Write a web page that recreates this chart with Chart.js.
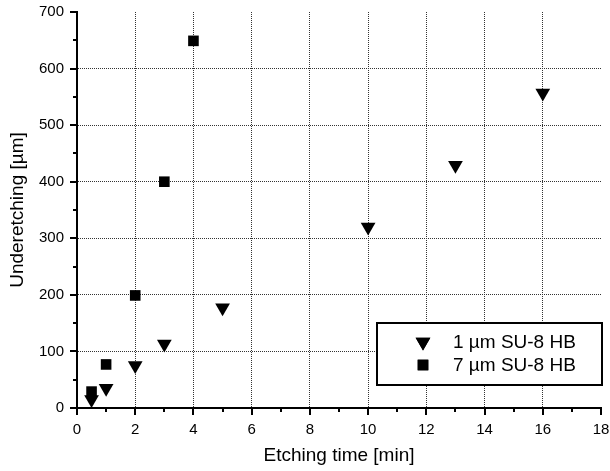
<!DOCTYPE html>
<html>
<head>
<meta charset="utf-8">
<script src="https://cdn.jsdelivr.net/npm/chart.js@4/dist/chart.umd.min.js"></script>
<style>
  html, body { margin: 0; padding: 0; background: #fff; }
  #wrap { width: 610px; height: 471px; }
</style>
</head>
<body>
<div id="wrap"><canvas id="chartUnderetching"></canvas></div>
<script>
/* Data */
const time_1um = [0.5, 1, 2, 3, 5, 10, 13, 16];
const under_1um = [15, 35, 75, 113, 177, 320, 429, 557];
const time_7um = [0.5, 1, 2, 3, 4];
const under_7um = [29, 77, 199, 400, 649];
const seriesLabels = ['1 \u00b5m SU-8 HB', '7 \u00b5m SU-8 HB'];

const FONT = 'Liberation Sans, Arial, Helvetica, sans-serif';

function toPoints(xs, ys) {
  let result = [];
  for (let i = 0; i < xs.length; i++) {
    result.push({x: xs[i], y: ys[i]});
  }
  return result;
}

function gridColor(maxValue) {
  return function (ctx) {
    const v = ctx.tick ? ctx.tick.value : null;
    if (v === 0 || v === maxValue) return 'rgba(0,0,0,0)';
    return '#333';
  };
}

/* minor + major tick marks drawn outside the axes */
const tickMarks = {
  id: 'tickMarks',
  afterDraw(chart) {
    const ctx = chart.ctx;
    const xs = chart.scales.x, ys = chart.scales.y;
    const area = chart.chartArea;
    ctx.save();
    ctx.strokeStyle = '#000';
    ctx.lineWidth = 2;
    for (let v = xs.min; v <= xs.max; v += 1) {
      const px = Math.round(xs.getPixelForValue(v));
      const len = v % 2 === 0 ? 7 : 4;
      ctx.beginPath();
      ctx.moveTo(px, area.bottom);
      ctx.lineTo(px, area.bottom + len);
      ctx.stroke();
    }
    for (let v = ys.min; v <= ys.max; v += 50) {
      const py = Math.round(ys.getPixelForValue(v));
      const len = v % 100 === 0 ? 7 : 4;
      ctx.beginPath();
      ctx.moveTo(area.left, py);
      ctx.lineTo(area.left - len, py);
      ctx.stroke();
    }
    ctx.restore();
  }
};

/* boxed legend inside the plot, bottom right */
const boxLegend = {
  id: 'boxLegend',
  afterDraw(chart) {
    const ctx = chart.ctx;
    const area = chart.chartArea;
    const right = area.right + 1, bottom = area.bottom - 23;
    const w = 225, h = 62;
    const left = right - w, top = bottom - h;
    ctx.save();
    ctx.fillStyle = '#fff';
    ctx.fillRect(left, top, w, h);
    ctx.lineWidth = 2;
    ctx.strokeStyle = '#000';
    ctx.strokeRect(left, top, w, h);
    ctx.font = '19px ' + FONT;
    ctx.textBaseline = 'middle';
    ctx.fillStyle = '#000';
    chart.data.datasets.forEach(function (ds, i) {
      const cy = top + 19 + i * 23;
      const cx = left + 46;
      Chart.helpers.drawPoint(ctx, {
        pointStyle: ds.pointStyle,
        rotation: ds.rotation || 0,
        radius: ds.pointRadius,
        borderWidth: 0
      }, cx, cy);
      ctx.fillStyle = '#000';
      ctx.fill();
      ctx.fillText(ds.label, left + 76, cy + 1);
    });
    ctx.restore();
  }
};

const data = {
  datasets: [
    {
      label: seriesLabels[0],
      data: toPoints(time_1um, under_1um),
      pointStyle: 'triangle',
      rotation: 180,
      pointRadius: 8.5,
      pointHoverRadius: 8.5,
      backgroundColor: '#000',
      borderColor: '#000',
      borderWidth: 0
    },
    {
      label: seriesLabels[1],
      data: toPoints(time_7um, under_7um),
      pointStyle: 'rect',
      pointRadius: 7.5,
      pointHoverRadius: 7.5,
      backgroundColor: '#000',
      borderColor: '#000',
      borderWidth: 0
    }
  ]
};

const config = {
  type: 'scatter',
  data: data,
  plugins: [tickMarks, boxLegend],
  options: {
    responsive: true,
    maintainAspectRatio: false,
    animation: false,
    layout: { padding: { top: 0, right: 0, left: 0, bottom: 0 } },
    plugins: {
      legend: { display: false },
      tooltip: { enabled: false }
    },
    scales: {
      x: {
        type: 'linear',
        min: 0,
        max: 18,
        ticks: {
          stepSize: 2,
          padding: 13,
          color: '#000',
          font: { family: FONT, size: 15 }
        },
        grid: { color: gridColor(18), lineWidth: 1, drawTicks: false },
        border: { display: true, color: '#000', width: 2, dash: [1, 1] },
        title: {
          display: true,
          text: 'Etching time [min]',
          color: '#000',
          font: { family: FONT, size: 19 },
          padding: { top: 4, bottom: 4 }
        },
        afterFit(scale) {
          scale.height = 63;
          scale.paddingLeft = 0;
          scale.paddingRight = 9;
        }
      },
      y: {
        type: 'linear',
        min: 0,
        max: 700,
        ticks: {
          stepSize: 100,
          padding: 13,
          color: '#000',
          font: { family: FONT, size: 15 }
        },
        grid: { color: gridColor(700), lineWidth: 1, drawTicks: false },
        border: { display: true, color: '#000', width: 2, dash: [1, 1] },
        title: {
          display: true,
          text: 'Underetching [\u00b5m]',
          color: '#000',
          font: { family: FONT, size: 19 },
          padding: { top: 6, bottom: 4 }
        },
        afterFit(scale) {
          scale.width = 77;
          scale.paddingTop = 12;
          scale.paddingBottom = 0;
        }
      }
    }
  }
};

const ctx = document.getElementById('chartUnderetching').getContext('2d');
const chartUnderetching = new Chart(ctx, config);
</script>
</body>
</html>
